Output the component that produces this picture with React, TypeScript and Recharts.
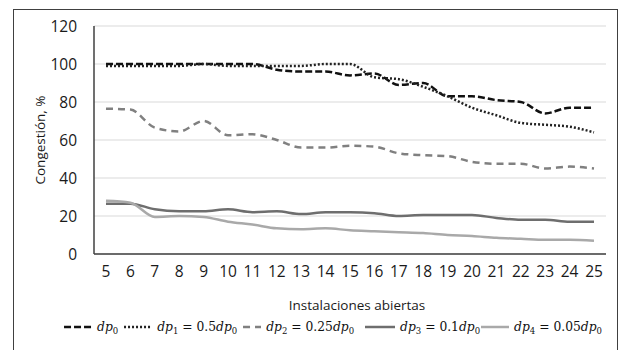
import React from 'react';
import { LineChart, Line, XAxis, YAxis, CartesianGrid } from 'recharts';

// Instalaciones abiertas (eje X)
const instalaciones = [5, 6, 7, 8, 9, 10, 11, 12, 13, 14, 15, 16, 17, 18, 19, 20, 21, 22, 23, 24, 25];

// Congestión, % por serie
const dp0 = [100, 100, 100, 100, 100, 100, 100, 97, 96, 96, 94, 95, 89, 90, 83, 83, 81, 80, 74, 77, 77];
const dp1 = [99, 99, 99, 99, 100, 99, 99, 99, 99, 100, 100, 93, 92, 88, 83, 77, 73, 69, 68, 67, 64];
const dp2 = [76.5, 76, 66.5, 64.5, 70, 62.5, 63, 60, 56, 56, 57, 56.5, 53, 52, 51.5, 48.5, 47.5, 47.5, 45, 46, 45];
const dp3 = [26.5, 26.5, 23.5, 22.5, 22.5, 23.5, 22, 22.5, 21, 22, 22, 21.5, 20, 20.5, 20.5, 20.5, 19, 18, 18, 17, 17];
const dp4 = [28, 27, 19.5, 20, 19.5, 17, 15.5, 13.5, 13, 13.5, 12.5, 12, 11.5, 11, 10, 9.5, 8.5, 8, 7.5, 7.5, 7];

const yTicks = [0, 20, 40, 60, 80, 100, 120];

// coeficientes para la leyenda: dp_i = c·dp_0
const seriesKeys = ['dp0', 'dp1', 'dp2', 'dp3', 'dp4'];
const coefs = ['', '0.5', '0.25', '0.1', '0.05'];

const styles: Record<string, { stroke: string; dash?: string; width: number; swatch: number }> = {
  dp0: { stroke: '#111111', dash: '7 3', width: 2.5, swatch: 28 },
  dp1: { stroke: '#222222', dash: '2 2', width: 2.5, swatch: 28 },
  dp2: { stroke: '#808080', dash: '7 5', width: 2.5, swatch: 18 },
  dp3: { stroke: '#6e6e6e', width: 2.5, swatch: 30 },
  dp4: { stroke: '#a9a9a9', width: 2.5, swatch: 28 },
};

const data = instalaciones.map((x, i) => ({
  x,
  dp0: dp0[i],
  dp1: dp1[i],
  dp2: dp2[i],
  dp3: dp3[i],
  dp4: dp4[i],
}));

const mathFont = '"DejaVu Serif", "Liberation Serif", serif';
const textFont = '"Open Sans", "Noto Sans", sans-serif';

const DP = ({ sub }: { sub: string }) => (
  <span>
    <i>dp</i>
    <span style={{ fontSize: 8.5, position: 'relative', top: 3 }}>{sub}</span>
  </span>
);

const LegendItem = ({ idx }: { idx: number }) => {
  const key = seriesKeys[idx];
  const s = styles[key];
  return (
    <div style={{ display: 'flex', alignItems: 'center', marginRight: idx === 2 ? 11 : idx === 3 ? 1 : 6 }}>
      <svg width={s.swatch} height={10} style={{ marginRight: 5 }}>
        <line x1={0} y1={5} x2={s.swatch} y2={5} stroke={s.stroke} strokeWidth={s.width} strokeDasharray={s.dash} />
      </svg>
      <span>
        <DP sub={String(idx)} />
        {coefs[idx] !== '' && (
          <>
            {' = '}
            {coefs[idx]}
            <DP sub="0" />
          </>
        )}
      </span>
    </div>
  );
};

export default function App() {
  return (
    <div style={{ position: 'fixed', left: 0, top: 0, width: 621, height: 350, background: '#fff', overflow: 'hidden' }}>
      <div style={{ position: 'absolute', left: 13, top: 9, width: 603, height: 360, border: '1px solid #404040' }} />
      <div style={{ position: 'absolute', left: 0, top: 0 }}>
        <LineChart width={621} height={350} data={data} margin={{ top: 26, right: 15, left: 34, bottom: 66 }}>
          <CartesianGrid vertical={false} stroke="#d9d9d9" strokeWidth={1} />
          <XAxis
            dataKey="x"
            height={30}
            padding={{ left: 12, right: 12 }}
            axisLine={{ stroke: '#404040', strokeWidth: 1.5 }}
            tickLine={false}
            tickSize={0}
            tickMargin={12}
            interval={0}
            tick={{ fill: '#1a1a1a', fontSize: 15.5, fontFamily: textFont }}
          />
          <YAxis
            width={60}
            domain={[0, 120]}
            ticks={yTicks}
            axisLine={{ stroke: '#404040', strokeWidth: 1.5 }}
            tickLine={false}
            tickSize={0}
            tickMargin={17}
            tick={{ fill: '#1a1a1a', fontSize: 15.5, fontFamily: textFont }}
          />
          {seriesKeys.map((k) => (
            <Line
              key={k}
              dataKey={k}
              type="monotone"
              stroke={styles[k].stroke}
              strokeWidth={styles[k].width}
              strokeDasharray={styles[k].dash}
              dot={false}
              activeDot={false}
              isAnimationActive={false}
            />
          ))}
        </LineChart>
      </div>
      <div
        style={{
          position: 'absolute',
          left: 40,
          top: 140,
          transform: 'translate(-50%, -50%) rotate(-90deg)',
          whiteSpace: 'nowrap',
          fontFamily: textFont,
          fontSize: 13.5,
          color: '#1a1a1a',
        }}
      >
        Congestión, %
      </div>
      <div
        style={{
          position: 'absolute',
          left: 357,
          top: 305,
          transform: 'translate(-50%, -50%)',
          whiteSpace: 'nowrap',
          fontFamily: textFont,
          fontSize: 13.5,
          color: '#1a1a1a',
        }}
      >
        Instalaciones abiertas
      </div>
      <div
        style={{
          position: 'absolute',
          left: 336,
          top: 327,
          transform: 'translate(-50%, -50%)',
          display: 'flex',
          alignItems: 'center',
          whiteSpace: 'nowrap',
          fontFamily: mathFont,
          fontSize: 12.3,
          color: '#111',
        }}
      >
        {seriesKeys.map((k, i) => (
          <LegendItem key={k} idx={i} />
        ))}
      </div>
    </div>
  );
}
